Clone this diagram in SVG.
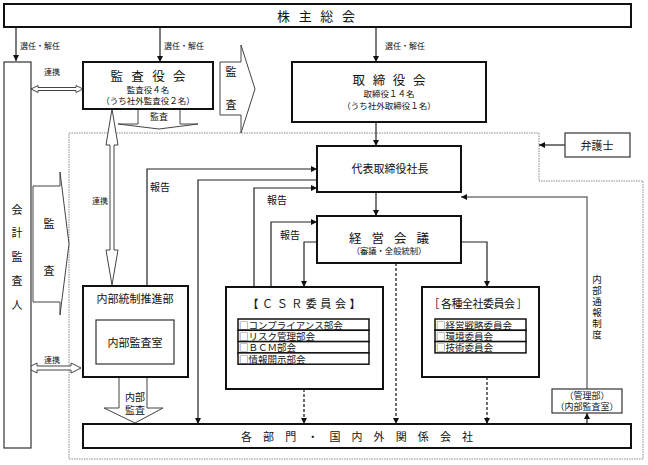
<svg xmlns="http://www.w3.org/2000/svg" width="648" height="465" viewBox="0 0 648 465">
<style>
text{font-family:"Noto Sans CJK JP","Noto Sans CJK SC",sans-serif;fill:#111;dominant-baseline:central;text-anchor:middle}
.box{fill:#fff;stroke:#111;stroke-width:2}
.thin{fill:#fff;stroke:#333;stroke-width:1.2}
.row{fill:#fff;stroke:#111;stroke-width:1.5}
.blk{fill:#fff;stroke:#444;stroke-width:1}
.con{fill:none;stroke:#222;stroke-width:1.2}
.dash{fill:none;stroke:#222;stroke-width:1.3;stroke-dasharray:3 2}
.gray{fill:none;stroke:#777;stroke-width:1.5}
.s8{font-size:8px}.s85{font-size:8.5px}.s9{font-size:9px}.s95{font-size:9.5px}.s10{font-size:10px}.s11{font-size:11px}.s12{font-size:12.5px}
.l{text-anchor:start}
.v{writing-mode:vertical-rl;text-orientation:upright}
</style>
<defs>
<marker id="ah" markerUnits="userSpaceOnUse" markerWidth="8" markerHeight="8" refX="6" refY="3" orient="auto"><path d="M0,0 L6,3 L0,6 z" fill="#111"/></marker>
</defs>
<path d="M69,133 H539 V181 H643 V459 H69 Z" fill="none" stroke="#888" stroke-width="1" stroke-dasharray="1.5 1"/>
<g id="connectors">
<path class="con" d="M16,27 V61" marker-end="url(#ah)"/>
<path class="con" d="M160,27 V62" marker-end="url(#ah)"/>
<path class="con" d="M376,27 V62" marker-end="url(#ah)"/>
<path class="con" d="M376,122 V146" marker-end="url(#ah)"/>
<path class="con" d="M376,192 V216" marker-end="url(#ah)"/>
<path class="con" d="M147,286 V169 H317" marker-end="url(#ah)"/>
<path class="con" d="M317,180 H198 V424" marker-end="url(#ah)"/>
<path class="con" d="M254,287 V188 H317" marker-end="url(#ah)"/>
<path class="con" d="M271,287 V222 H317" marker-end="url(#ah)"/>
<path class="con" d="M317,242 H304 V287" marker-end="url(#ah)"/>
<path class="con" d="M461,242 H487 V287" marker-end="url(#ah)"/>
<path class="dash" d="M396,263 V424" marker-end="url(#ah)"/>
<path class="dash" d="M304,389 V424" marker-end="url(#ah)"/>
<path class="dash" d="M487,377 V424" marker-end="url(#ah)"/>
<path class="con" d="M565,145 H539" marker-end="url(#ah)"/>
<path class="gray" d="M587,389 V197 H461" marker-end="url(#ah)"/>
<path class="con" d="M587,424 V413" marker-end="url(#ah)"/>
<polygon class="blk" points="112,109 118,145 114,145 114,250 118,250 112,285 106,250 110,250 110,145 106,145"/>
<polygon class="blk" points="31,89 38,85.5 38,87.5 76,87.5 76,85.5 83,89 76,92.5 76,90.5 38,90.5 38,92.5"/>
<polygon class="blk" points="27,368 37,363 37,366 71,366 71,363 81,368 71,373 71,370 37,370 37,373"/>
<text class="s8 l" x="20" y="45">選任・解任</text>
<text class="s8 l" x="164" y="45">選任・解任</text>
<text class="s8 l" x="385" y="45">選任・解任</text>
<text class="s8" x="52" y="71">連携</text>
<text class="s8" x="100" y="200">連携</text>
<text class="s8" x="52" y="359">連携</text>
<text class="s10" x="160" y="186">報告</text>
<text class="s10" x="277" y="199">報告</text>
<text class="s10" x="290" y="234">報告</text>
<text class="s95 v" x="597" y="307.5" letter-spacing="1.5">内部通報制度</text>
</g>
<g id="audit-arrow-down">
<polygon class="blk" points="138,109 180,109 180,124 198,124 159,129 118,124 138,124"/>
<text class="s9" x="159" y="116.5">監査</text>
</g>
<g id="audit-arrow-right">
<polygon class="blk" points="220,62 241,62 241,45 255,89 241,133 241,115 220,115"/>
<text class="s11" x="231" y="71">監</text>
<text class="s11" x="231" y="104">査</text>
</g>
<g id="audit-arrow-left">
<polygon class="blk" points="33,186 60,186 60,172 69,244 60,315 60,302 33,302"/>
<text class="s11" x="49" y="223">監</text>
<text class="s11" x="49" y="270">査</text>
</g>
<g id="internal-audit-arrow">
<polygon class="blk" points="119,377 147,377 147,408 163,408 135,423 104,408 119,408"/>
<text class="s10" x="135" y="396">内部</text>
<text class="s10" x="135" y="409">監査</text>
</g>
<g id="shareholders">
<rect class="box" x="4" y="4" width="627" height="23"/>
<text x="316" y="15.5" style="font-size:13px" textLength="78" lengthAdjust="spacing">株 主 総 会</text>
</g>
<g id="accounting-auditor">
<rect class="thin" x="4" y="62" width="27" height="386"/>
<text class="s11" x="17" y="209">会</text>
<text class="s11" x="17" y="232">計</text>
<text class="s11" x="17" y="256">監</text>
<text class="s11" x="17" y="280">査</text>
<text class="s11" x="17" y="304">人</text>
</g>
<g id="audit-board">
<rect class="box" x="83" y="62" width="130" height="47"/>
<text class="s12" x="148" y="75" textLength="75" lengthAdjust="spacing">監 査 役 会</text>
<text class="s85" x="148" y="88.5">監査役４名</text>
<text class="s85" x="148" y="99.5">（うち社外監査役２名）</text>
</g>
<g id="board">
<rect class="box" x="292" y="62" width="194" height="60"/>
<text class="s12" x="389" y="79.5" textLength="73" lengthAdjust="spacing">取 締 役 会</text>
<text class="s85" x="389" y="92.5">取締役１４名</text>
<text class="s85" x="389" y="105">（うち社外取締役１名）</text>
</g>
<g id="lawyer">
<rect class="thin" x="565" y="133" width="65" height="24"/>
<text class="s11" x="597" y="145">弁護士</text>
</g>
<g id="president">
<rect class="box" x="317" y="146" width="144" height="46"/>
<text class="s11" x="390" y="168">代表取締役社長</text>
</g>
<g id="management-meeting">
<rect class="box" x="317" y="216" width="144" height="47"/>
<text class="s12" x="389" y="237" textLength="80" lengthAdjust="spacing">経 営 会 議</text>
<text style="font-size:8.3px" x="389" y="250">（審議・全般統制）</text>
</g>
<g id="internal-control">
<rect class="box" x="83" y="286" width="105" height="91"/>
<text class="s11" x="135" y="298">内部統制推進部</text>
<rect class="thin" x="96" y="320" width="78" height="44"/>
<text class="s11" x="135" y="342">内部監査室</text>
</g>
<g id="csr">
<rect class="box" x="226" y="287" width="157" height="102"/>
<text class="s11" x="304" y="303" textLength="113" lengthAdjust="spacing">【 Ｃ Ｓ Ｒ 委 員 会 】</text>
<rect class="row" x="238" y="319" width="131" height="11.3"/>
<rect class="row" x="238" y="330.3" width="131" height="11.3"/>
<rect class="row" x="238" y="341.6" width="131" height="11.3"/>
<rect class="row" x="238" y="352.9" width="131" height="11.3"/>
<text class="s95 l" x="239" y="324.8">□コンプライアンス部会</text>
<text class="s95 l" x="239" y="336.1">□リスク管理部会</text>
<text class="s95 l" x="239" y="347.4">□ＢＣＭ部会</text>
<text class="s95 l" x="239" y="358.7">□情報開示部会</text>
</g>
<g id="committees">
<rect class="box" x="422" y="287" width="117" height="90"/>
<text class="s11" x="478" y="303" textLength="99" lengthAdjust="spacing">［ 各種全社委員会 ］</text>
<rect class="row" x="435" y="319" width="91" height="11.3"/>
<rect class="row" x="435" y="330.3" width="91" height="11.3"/>
<rect class="row" x="435" y="341.6" width="91" height="11.3"/>
<text class="s95 l" x="436" y="324.8">□経営戦略委員会</text>
<text class="s95 l" x="436" y="336.1">□環境委員会</text>
<text class="s95 l" x="436" y="347.4">□技術委員会</text>
</g>
<g id="admin-dept">
<rect class="thin" x="552" y="389" width="70" height="24"/>
<text class="s9" x="587" y="395.5">（管理部）</text>
<text class="s9" x="587" y="406.5">（内部監査室）</text>
</g>
<g id="departments">
<rect class="box" x="83" y="424" width="548" height="24"/>
<text class="s11" x="357" y="436" textLength="232" lengthAdjust="spacing">各 部 門 ・ 国 内 外 関 係 会 社</text>
</g>
</svg>
